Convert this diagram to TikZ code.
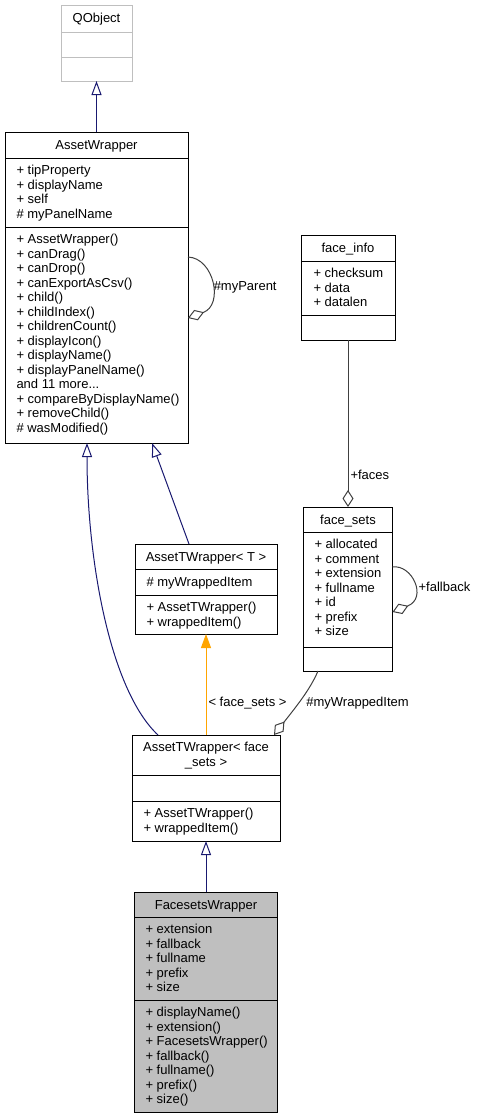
\documentclass[tikz,border=0pt]{standalone}
\usepackage{fontspec}
\setmainfont{Liberation Sans}
\usetikzlibrary{arrows.meta}
\definecolor{edgeblue}{RGB}{25,25,112}
\definecolor{edgegrey}{RGB}{64,64,64}
\definecolor{edgeorange}{RGB}{255,165,0}
\definecolor{boxgrey}{RGB}{191,191,191}
\begin{document}
\begin{tikzpicture}[x=1pt, y=-1pt, line width=1pt,
  every node/.style={font=\fontsize{13}{14.5}\selectfont},
  classbox/.style={draw=black, inner sep=0pt, outer sep=0pt},
  title/.style={anchor=north, align=center, inner sep=0pt, execute at begin node=\strut},
  members/.style={anchor=north west, align=left, inner sep=0pt, execute at begin node=\strut},
  inherit/.style={draw=edgeblue, -{Triangle[open, length=14pt, width=10pt]}},
  template/.style={draw=edgeorange, -{Triangle[length=14pt, width=10pt, fill=edgeorange]}},
  usage/.style={draw=edgegrey, -{Diamond[open, length=17pt, width=11pt]}},
  elabel/.style={inner sep=2pt}]
	\useasboundingbox (0,0) rectangle (478,1120);

	% QObject
	\node[classbox, draw=boxgrey, minimum width=71, minimum height=76] (qobj) at (96.5,43) {};
	\node[title] (qobjT) at (96.5,12) {QObject};
	\draw[boxgrey] (qobj.west |- 0,32) -- (qobj.east |- 0,32);
	\draw[boxgrey] (qobj.west |- 0,57) -- (qobj.east |- 0,57);

	% AssetWrapper
	\node[classbox, minimum width=183, minimum height=311] (aw) at (96.5,287.5) {};
	\node[title] (awT) at (96.5,139) {AssetWrapper};
	\draw (aw.west |- 0,158) -- (aw.east |- 0,158);
	\draw (aw.west |- 0,227) -- (aw.east |- 0,227);
	\node[members] (awA) at (16,165) {+ tipProperty\\+ displayName\\+ self\\\# myPanelName};
	\node[members] (awM) at (16,234) {+ AssetWrapper()\\+ canDrag()\\+ canDrop()\\+ canExportAsCsv()\\+ child()\\+ childIndex()\\+ childrenCount()\\+ displayIcon()\\+ displayName()\\+ displayPanelName()\\and 11 more...\\+ compareByDisplayName()\\+ removeChild()\\\# wasModified()};

	% face_info
	\node[classbox, minimum width=94, minimum height=105] (finfo) at (348,287.5) {};
	\node[title] (finfoT) at (348,242) {face\_info};
	\draw (finfo.west |- 0,261) -- (finfo.east |- 0,261);
	\draw (finfo.west |- 0,315) -- (finfo.east |- 0,315);
	\node[members] (finfoA) at (313,268) {+ checksum\\+ data\\+ datalen};

	% face_sets
	\node[classbox, minimum width=89, minimum height=164] (fsets) at (348,589) {};
	\node[title] (fsetsT) at (348,514) {face\_sets};
	\draw (fsets.west |- 0,532) -- (fsets.east |- 0,532);
	\draw (fsets.west |- 0,647) -- (fsets.east |- 0,647);
	\node[members] (fsetsA) at (314,539) {+ allocated\\+ comment\\+ extension\\+ fullname\\+ id\\+ prefix\\+ size};

	% AssetTWrapper< T >
	\node[classbox, minimum width=142, minimum height=90] (atwT) at (206,589) {};
	\node[title] (atwTT) at (206,551) {AssetTWrapper< T >};
	\draw (atwT.west |- 0,569) -- (atwT.east |- 0,569);
	\draw (atwT.west |- 0,595) -- (atwT.east |- 0,595);
	\node[members] (atwTA) at (146,576) {\# myWrappedItem};
	\node[members] (atwTM) at (146,602) {+ AssetTWrapper()\\+ wrappedItem()};

	% AssetTWrapper< face_sets >
	\node[classbox, minimum width=148, minimum height=106] (atwF) at (206,788) {};
	\node[title] (atwFT) at (206,742) {AssetTWrapper< face\\\_sets >};
	\draw (atwF.west |- 0,775) -- (atwF.east |- 0,775);
	\draw (atwF.west |- 0,801) -- (atwF.east |- 0,801);
	\node[members] (atwFM) at (143,808) {+ AssetTWrapper()\\+ wrappedItem()};

	% FacesetsWrapper
	\node[classbox, fill=boxgrey, minimum width=143, minimum height=220] (fw) at (206,1002) {};
	\node[title] (fwT) at (206,899) {FacesetsWrapper};
	\draw (fw.west |- 0,917) -- (fw.east |- 0,917);
	\draw (fw.west |- 0,1000) -- (fw.east |- 0,1000);
	\node[members] (fwA) at (145,924) {+ extension\\+ fallback\\+ fullname\\+ prefix\\+ size};
	\node[members] (fwM) at (145,1007) {+ displayName()\\+ extension()\\+ FacesetsWrapper()\\+ fallback()\\+ fullname()\\+ prefix()\\+ size()};

	% inheritance
	\draw[inherit] (aw.north) -- (qobj.south);
	\draw[inherit] ([xshift=54pt]atwT.north west) -- ([xshift=147pt]aw.south west);
	\draw[inherit] ([xshift=26pt]atwF.north west) .. controls (110,690) and (87,560) .. ([xshift=82pt]aw.south west);
	\draw[inherit] (fw.north) -- (atwF.south);
	\draw[template] (atwF.north) -- node[elabel, right, pos=0.32] {< face\_sets >} (atwT.south);

	% members
	\draw[usage] (finfo.south) -- node[elabel, right, pos=0.81] {+faces} (fsets.north);
	\draw[usage] ([yshift=-125pt]aw.north east) .. controls (214,258) and (224,305) .. node[elabel, right, pos=0.5, yshift=-4pt] {\#myParent} ([yshift=-186pt]aw.north east);
	\draw[usage] ([yshift=-60pt]fsets.north east) .. controls (412,564) and (428,598) .. node[elabel, right, pos=0.5, xshift=3pt, yshift=-4pt] {+fallback} ([yshift=-105pt]fsets.north east);
	\draw[usage] ([xshift=-30pt]fsets.south) .. controls (310,690) and (295,708) .. node[elabel, anchor=west, pos=0.5, xshift=3pt, yshift=-3pt] {\#myWrappedItem} ([xshift=68pt]atwF.north);
\end{tikzpicture}
\end{document}
